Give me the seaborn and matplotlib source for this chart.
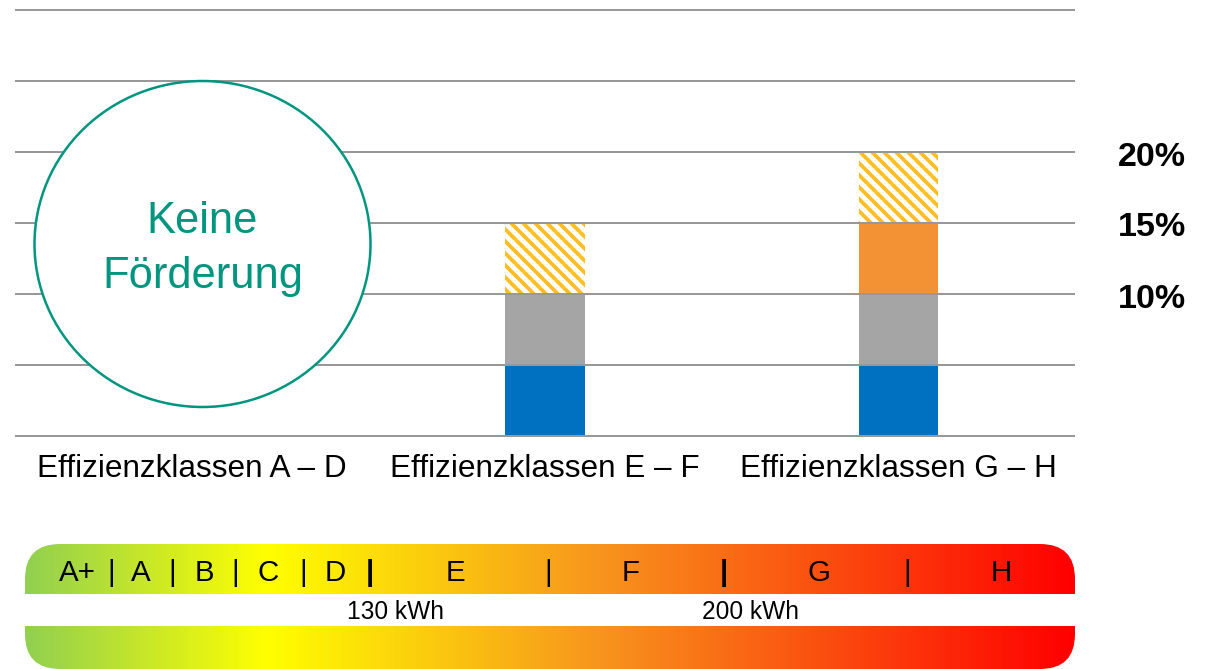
import numpy as np
import pandas as pd
import matplotlib
matplotlib.use("Agg")
import matplotlib.pyplot as plt
import matplotlib.transforms as mtransforms
import seaborn as sns
from matplotlib.patches import FancyBboxPatch, Rectangle, Ellipse
from matplotlib.colors import LinearSegmentedColormap

# ---------------- data ----------------
categories = ["Effizienzklassen A – D", "Effizienzklassen E – F", "Effizienzklassen G – H"]
basis = [0, 5, 5]        # blue
zusatz = [0, 5, 5]       # gray
bonus = [0, 0, 5]        # orange
extra = [0, 5, 5]        # hatched
level_labels = ["20%", "15%", "10%"]
level_values = [20, 15, 10]
class_labels = ["A+", "|", "A", "|", "B", "|", "C", "|", "D", "|", "E", "|", "F", "|", "G", "|", "H"]
class_bold = [False, False, False, False, False, False, False, False, False, True,
              False, False, False, True, False, False, False]
kwh_labels = ["130 kWh", "200 kWh"]

# ---------------- style ----------------
sns.set_theme(style="white")
plt.rcParams["font.family"] = ["Liberation Sans", "DejaVu Sans"]
plt.rcParams["hatch.linewidth"] = 3.8

BLUE = "#0070C0"
GRAY = "#A5A5A5"
ORANGE = "#F39234"
HATCH = "#FDBE22"
TEAL = "#00957F"
GRID = "#989898"

W, H = 1205, 669
fig = plt.figure(figsize=(W / 72, H / 72), dpi=72)

ppu = 14.2
bottom_px = 436 + 0.5 * ppu
top_px = 10 - 0.5 * ppu
ax = fig.add_axes([15 / W, (H - bottom_px) / H, 1060 / W, (bottom_px - top_px) / H])

df = pd.DataFrame({
    "Klasse": categories,
    "basis": basis,
    "zusatz": zusatz,
    "bonus": bonus,
    "extra": extra,
})
df["c0"] = df["basis"]
df["c1"] = df["c0"] + df["zusatz"]
df["c2"] = df["c1"] + df["bonus"]
df["c3"] = df["c2"] + df["extra"]

common = dict(data=df, x="Klasse", saturation=1, width=0.224, errorbar=None, ax=ax, linewidth=0)
sns.barplot(y="c3", color="white", edgecolor=HATCH, hatch="\\\\", **common)
sns.barplot(y="c2", color=ORANGE, edgecolor=ORANGE, **common)
sns.barplot(y="c1", color=GRAY, edgecolor=GRAY, **common)
sns.barplot(y="c0", color=BLUE, edgecolor=BLUE, **common)

ax.set_xlim(-0.5, 2.5)
ax.set_ylim(-0.5, 30.5)
ax.set_yticks(np.arange(0, 31, 5))
ax.yaxis.grid(True, color=GRID, linewidth=2)
ax.xaxis.grid(False)
ax.set_axisbelow(False)
ax.tick_params(axis="y", length=0, labelleft=False)
ax.tick_params(axis="x", length=0, pad=10.5, labelsize=31.5, labelcolor="black")
for s in ax.spines.values():
    s.set_visible(False)
ax.set_xlabel("")
ax.set_ylabel("")
ax.patch.set_alpha(0)

# percentage labels at their levels
off = mtransforms.ScaledTranslation(0, -5 / 72, fig.dpi_scale_trans)
xpix = mtransforms.Affine2D().scale(1 / W, 1) + fig.transFigure
trans = mtransforms.blended_transform_factory(xpix, ax.transData) + off
for lab, val in zip(level_labels, level_values):
    ax.text(1118, val, lab, transform=trans, fontsize=34, fontweight="bold",
            va="center", ha="left", color="black")

# ---------------- overlay (pixel coordinates) ----------------
ax2 = fig.add_axes([0, 0, 1, 1])
ax2.patch.set_visible(False)

cmap = LinearSegmentedColormap.from_list(
    "eff", [(0.0, "#92D050"), (0.23, "#FFFF00"), (0.55, "#F7941D"), (1.0, "#FF0000")])
grad = np.linspace(0, 1, 1050).reshape(1, -1)
im = ax2.imshow(grad, cmap=cmap, extent=(25, 1075, 669, 544), aspect="auto",
                interpolation="bilinear")
clip = FancyBboxPatch((25, 544), 1050, 125, boxstyle="round,pad=0,rounding_size=35",
                      facecolor="none", edgecolor="none", transform=ax2.transData)
ax2.add_patch(clip)
im.set_clip_path(clip)
ax2.add_patch(Rectangle((20, 594), 1060, 32, facecolor="white", edgecolor="none", zorder=3))

class_x = [77.5, 111, 141, 172, 204, 235, 268, 303, 335, 370, 455, 548, 631, 724, 819, 907, 1001]
for lab, xx, b in zip(class_labels, class_x, class_bold):
    ax2.text(xx, 581, lab, fontsize=29.5, ha="center", va="baseline",
             fontweight="bold" if b else "normal", color="black", zorder=4)
for lab, xx in zip(kwh_labels, [395.5, 750]):
    ax2.text(xx, 619, lab, fontsize=24.5, ha="center", va="baseline", color="black", zorder=4)

# circle "Keine Förderung"
ax2.add_patch(Ellipse((202.5, 244), 336, 326, facecolor="white", edgecolor=TEAL,
                      linewidth=2.5, zorder=2))
ax2.text(202.5, 233, "Keine", fontsize=43.5, ha="center", va="baseline", color=TEAL, zorder=3)
ax2.text(202.5, 288, "Förderung", fontsize=43.5, ha="center", va="baseline", color=TEAL, zorder=3)

ax2.set_xlim(0, W)
ax2.set_ylim(H, 0)
ax2.axis("off")

fig.savefig("out.png", dpi=72, facecolor="white")
